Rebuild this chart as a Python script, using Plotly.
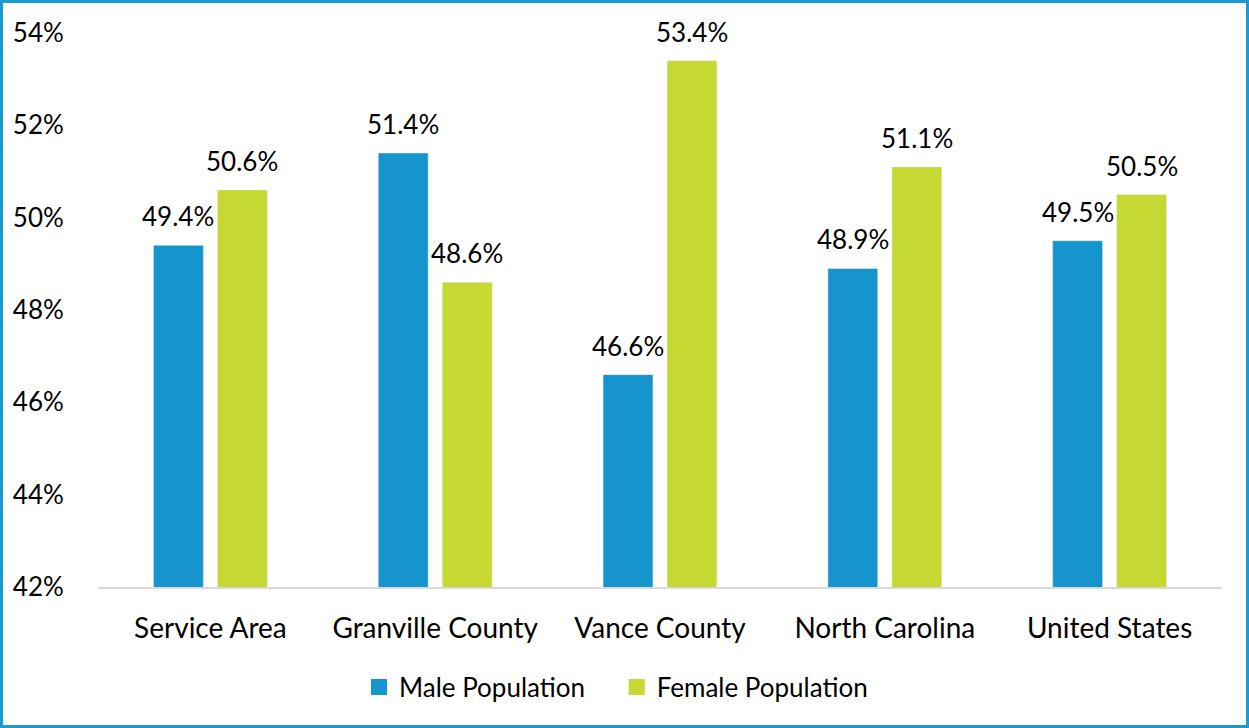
import plotly.graph_objects as go

categories = ["Service Area", "Granville County", "Vance County", "North Carolina", "United States"]
male = [49.4, 51.4, 46.6, 48.9, 49.5]
female = [50.6, 48.6, 53.4, 51.1, 50.5]
y_ticks = [42, 44, 46, 48, 50, 52, 54]
series = [("Male Population", male, "#1594CE", -32), ("Female Population", female, "#C5D932", 32)]

FONT = "Lato, Open Sans, sans-serif"
FS = 26
FS_X = 28
W, H = 1249, 728
L, R, T, B = 98, 27, 33, 141

fig = go.Figure()
for name, vals, color, dx in series:
    fig.add_trace(go.Bar(x=categories, y=vals, name=name, marker_color=color,
                         showlegend=False, hoverinfo="x+y"))
for i, (name, vals, color, dx) in enumerate(series):
    legend_name = name + ("\u00a0" * 4 if i == 0 else "")
    fig.add_trace(go.Scatter(x=[None], y=[None], mode="markers", name=legend_name,
                             marker=dict(symbol="square", size=16, color=color)))
    for c, v in zip(categories, vals):
        fig.add_annotation(x=c, y=v, text=f"{v:.1f}%", showarrow=False,
                           xshift=dx, yshift=11, yanchor="bottom",
                           font=dict(size=FS, color="#000000", family=FONT))

pw, ph = W - L - R, H - T - B
fig.add_shape(type="rect", xref="paper", yref="paper",
              x0=(-L + 1.5) / pw, x1=(pw + R - 1.5) / pw,
              y0=(-B + 1.5) / ph, y1=(ph + T - 1.5) / ph,
              line=dict(color="#1A9AD0", width=3), fillcolor="rgba(0,0,0,0)", layer="below")

fig.update_layout(
    width=W, height=H,
    margin=dict(l=L, r=R, t=T, b=B, pad=0, autoexpand=False),
    paper_bgcolor="white", plot_bgcolor="white",
    barmode="group", bargap=0.431, bargroupgap=0.22,
    font=dict(family=FONT, size=FS, color="#000000"),
    showlegend=True,
    legend=dict(orientation="h", x=616 / W, xanchor="center", xref="container",
                y=1 - 687 / H, yanchor="middle", yref="container",
                font=dict(size=FS), itemwidth=30, traceorder="normal"),
)
fig.update_xaxes(showline=True, linecolor="#D9D9D9", linewidth=2,
                 ticks="outside", ticklen=15, tickcolor="rgba(0,0,0,0)",
                 tickfont=dict(size=FS_X), showgrid=False)
fig.update_yaxes(range=[42, 54], tickvals=y_ticks, ticktext=[f"{v}%" for v in y_ticks],
                 showgrid=False, zeroline=False, showline=False,
                 tickfont=dict(size=FS), ticks="outside", ticklen=28, tickcolor="rgba(0,0,0,0)")

fig.write_html("out.html", config={"displayModeBar": False},
               post_script="document.body.style.margin='0';document.body.style.padding='0';")
